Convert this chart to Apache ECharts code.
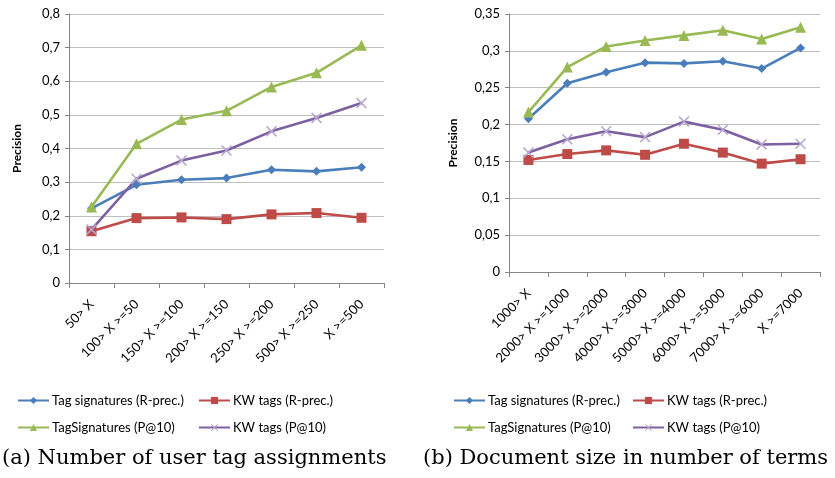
<!DOCTYPE html>
<html><head><meta charset="utf-8">
<script src="https://cdn.jsdelivr.net/npm/echarts@6/dist/echarts.min.js"></script>
<style>html,body{margin:0;padding:0;background:#fff}#c{width:835px;height:478px}</style>
</head><body><div id="c"></div>
<script>
const catsA = ['50> X','100> X >=50','150> X >=100','200> X >=150','250> X >=200','500> X >=250','X >=500'];
const catsB = ['1000> X','2000> X >=1000','3000> X >=2000','4000> X >=3000','5000> X >=4000','6000> X >=5000','7000> X >=6000','X >=7000'];
const seriesNames = ['Tag signatures (R-prec.)','KW tags (R-prec.)','TagSignatures (P@10)','KW tags (P@10)'];
const tagRA = [0.222,0.292,0.307,0.312,0.337,0.332,0.344];
const kwRA  = [0.154,0.193,0.195,0.190,0.204,0.208,0.194];
const tagPA = [0.226,0.414,0.486,0.512,0.583,0.625,0.707];
const kwPA  = [0.159,0.310,0.364,0.394,0.451,0.491,0.535];
const tagRB = [0.208,0.256,0.271,0.284,0.283,0.286,0.276,0.304];
const kwRB  = [0.152,0.160,0.165,0.159,0.174,0.162,0.147,0.153];
const tagPB = [0.217,0.278,0.306,0.314,0.321,0.328,0.316,0.332];
const kwPB  = [0.162,0.180,0.191,0.183,0.204,0.193,0.173,0.174];
const captionA = '(a) Number of user tag assignments';
const captionB = '(b) Document size in number of terms';

const colors = ['#4a7ebb','#be4b48','#98b954','#7d60a0'];
const xMark = 'path://M0,1L1,0L5,4L9,0L10,1L6,5L10,9L9,10L5,6L1,10L0,9L4,5Z';
const symbols = ['diamond','rect','triangle',xMark];
const symSizes = [9,10,11,11];
const symColors = ['#4a7ebb','#be4b48','#98b954','#b7a6cf'];
const font = 'Lato';

function mkSeries(data, gi, k){
  return {
    type:'line', name: seriesNames[k], xAxisIndex: gi, yAxisIndex: gi, data,
    symbol: symbols[k], symbolSize: symSizes[k], showAllSymbol:true,
    lineStyle:{color:colors[k], width:2.6},
    itemStyle:{color:symColors[k]},
    z: [3,2,5,4][k]
  };
}
const fmt = v => String(+v.toFixed(2)).replace('.',',');
function yAxis(gi, max, interval, gap){
  return {
    type:'value', gridIndex:gi, min:0, max, interval,
    name:'Precision', nameLocation:'middle', nameGap:gap, nameRotate:90,
    nameTextStyle:{fontFamily:font,fontWeight:'bold',fontSize:12,color:'#000'},
    axisLine:{show:true,lineStyle:{color:'#868686'}},
    axisTick:{show:true,length:4,lineStyle:{color:'#868686'}},
    splitLine:{lineStyle:{color:'#bfbfbf'}},
    axisLabel:{fontFamily:font,fontSize:13,color:'#000',margin:9,formatter:fmt}
  };
}
function xAxis(gi, cats){
  return {
    type:'category', gridIndex:gi, data:cats, boundaryGap:true,
    axisLine:{lineStyle:{color:'#868686'}},
    axisTick:{show:true,length:5,alignWithLabel:false,lineStyle:{color:'#868686'}},
    axisLabel:{fontFamily:font,fontSize:13,color:'#000',rotate:45,margin:19,interval:0}
  };
}
const legends = [];
const legPos = [
  [17,394],[198,394],[17,421],[198,421],
  [453,394],[632,394],[453,421],[632,421]
];
for (let g=0; g<2; g++){
  for (let k=0;k<4;k++){
    const p = legPos[g*4+k];
    legends.push({
      data:[seriesNames[k]], left:p[0], top:p[1], itemWidth:31, itemHeight:9, itemGap:0,
      textStyle:{fontFamily:font,fontSize:13,color:'#000',padding:[0,0,0,-2]},
      padding:0, selectedMode:false
    });
  }
}
const chart = echarts.init(document.getElementById('c'));
chart.setOption({
  animation:false,
  grid:[
    {left:69, top:14, width:315, height:269},
    {left:509, top:14, width:311, height:258}
  ],
  xAxis:[xAxis(0,catsA), xAxis(1,catsB)],
  yAxis:[yAxis(0,0.8,0.1,46), yAxis(1,0.35,0.05,50)],
  legend: legends,
  series:[
    mkSeries(tagRA,0,0), mkSeries(kwRA,0,1), mkSeries(tagPA,0,2), mkSeries(kwPA,0,3),
    mkSeries(tagRB,1,0), mkSeries(kwRB,1,1), mkSeries(tagPB,1,2), mkSeries(kwPB,1,3)
  ],
  graphic:[
    {type:'text', left:2, top:448, style:{text:captionA, font:'21px "DejaVu Serif"', fill:'#000'}},
    {type:'text', left:423, top:448, style:{text:captionB, font:'21px "DejaVu Serif"', fill:'#000'}}
  ]
});
</script></body></html>
